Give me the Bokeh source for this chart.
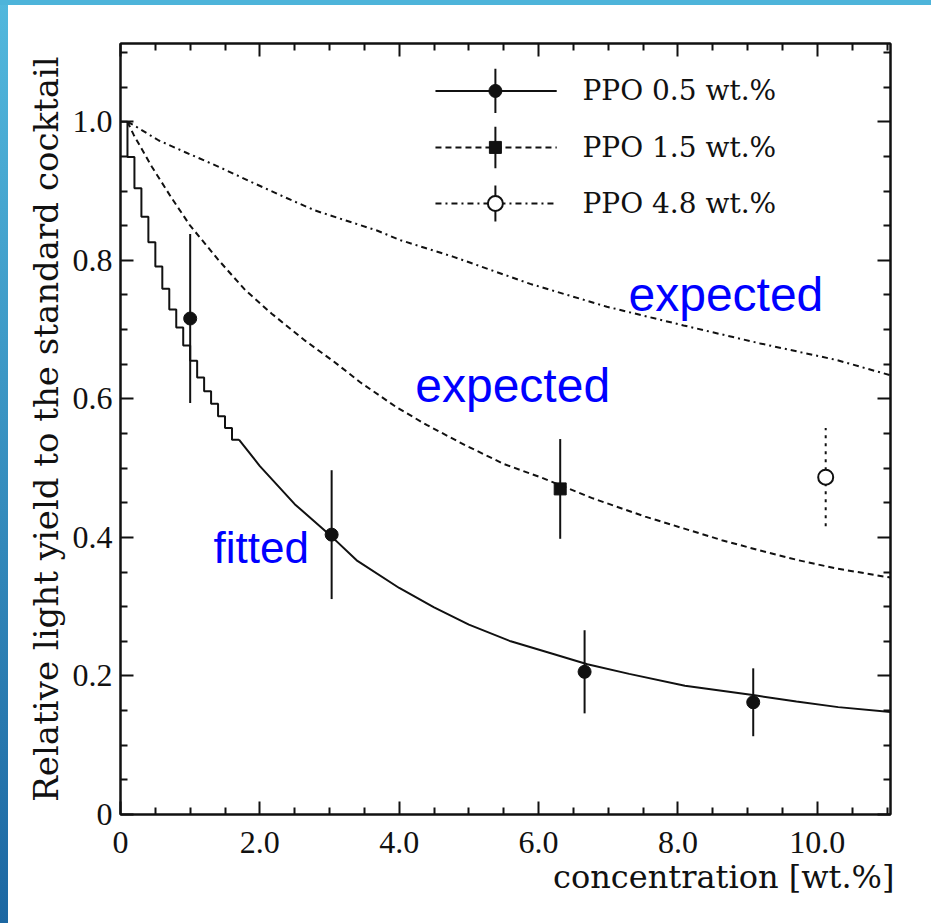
from bokeh.plotting import figure
from bokeh.models import FixedTicker, LinearAxis, Label, Range1d, PrintfTickFormatter, Title
from bokeh.embed import file_html
from bokeh.resources import INLINE

# ---------------- data ----------------
# fitted curve, PPO 0.5 wt.% : histogram part (bins of 0.1 wt.%)
fit_bin_edges = [0.0, 0.1, 0.2, 0.3, 0.4, 0.5, 0.6, 0.7, 0.8, 0.9, 1.0,
                 1.1, 1.2, 1.3, 1.4, 1.5, 1.6, 1.7]
fit_bin_vals = [1.0, 0.949, 0.904, 0.863, 0.826, 0.791, 0.759, 0.729, 0.703,
                0.677, 0.655, 0.631, 0.611, 0.593, 0.575, 0.558, 0.541]
# fitted curve, continued (fine steps, read as a line)
fit_x = [1.7, 2.0, 2.5, 3.0, 3.4, 4.0, 4.5, 5.0, 5.6, 6.2, 6.7, 7.3, 8.1,
         9.1, 9.7, 10.3, 11.05]
fit_y = [0.541, 0.503, 0.448, 0.404, 0.366, 0.327, 0.299, 0.274, 0.250,
         0.232, 0.217, 0.203, 0.186, 0.172, 0.163, 0.155, 0.148]

# expected curve, PPO 1.5 wt.%
exp15_x = [0.1, 0.19, 0.45, 0.74, 1.0, 1.41, 1.79, 2.17, 2.65, 3.06, 3.44,
           3.96, 4.40, 4.95, 5.50, 6.05, 6.76, 7.53, 8.08, 8.63, 9.18, 9.73,
           10.28, 11.05]
exp15_y = [1.0, 0.981, 0.935, 0.889, 0.850, 0.800, 0.757, 0.723, 0.684,
           0.654, 0.624, 0.588, 0.562, 0.533, 0.506, 0.486, 0.457, 0.430,
           0.413, 0.396, 0.381, 0.367, 0.355, 0.342]

# expected curve, PPO 4.8 wt.%
exp48_x = [0.1, 0.19, 0.55, 0.93, 1.41, 1.88, 2.36, 2.79, 3.68, 4.02, 4.78,
           5.88, 6.98, 8.08, 9.18, 10.28, 11.05]
exp48_y = [1.0, 0.995, 0.973, 0.956, 0.935, 0.913, 0.891, 0.872, 0.843,
           0.829, 0.805, 0.766, 0.733, 0.706, 0.680, 0.656, 0.634]

# measured points
ppo05_x = [1.0, 3.03, 6.66, 9.08]
ppo05_y = [0.716, 0.404, 0.206, 0.162]
ppo05_err = [0.122, 0.093, 0.060, 0.049]

ppo15_x = [6.31]
ppo15_y = [0.470]
ppo15_err = [0.072]

ppo48_x = [10.12]
ppo48_y = [0.487]
ppo48_err = [0.071]

legend_labels = ["PPO 0.5 wt.%", "PPO 1.5 wt.%", "PPO 4.8 wt.%"]

x_major = [0, 2, 4, 6, 8, 10]
x_minor = [0.5, 1, 1.5, 2.5, 3, 3.5, 4.5, 5, 5.5, 6.5, 7, 7.5, 8.5, 9, 9.5, 10.5, 11]
y_major = [0, 0.2, 0.4, 0.6, 0.8, 1.0]
y_minor = [0.05, 0.1, 0.15, 0.25, 0.3, 0.35, 0.45, 0.5, 0.55, 0.65, 0.7, 0.75,
           0.85, 0.9, 0.95, 1.05, 1.1]

# ---------------- figure ----------------
X_MAX, Y_MAX = 11.05, 1.113
p = figure(width=931, height=923, output_backend="svg", toolbar_location=None,
           x_range=Range1d(0, X_MAX), y_range=Range1d(0, Y_MAX),
           min_border_left=120, min_border_right=41, min_border_top=43,
           min_border_bottom=109)
p.border_fill_color = None
p.background_fill_color = "white"
p.styles = {
    "background": "linear-gradient(#4db4da, #4db4da) left top / 100% 5px no-repeat, "
                  "linear-gradient(to bottom, #52b8dd, #1c67a2) left top / 8px 100% no-repeat, "
                  "#ffffff"
}
p.xgrid.visible = False
p.ygrid.visible = False
p.outline_line_color = "#111111"
p.outline_line_width = 2

TICK_FONT = "Liberation Serif"
LABEL_FONT = "DejaVu Serif"


def style_axis(ax, ticks, minor, show_labels):
    ax.ticker = FixedTicker(ticks=ticks, minor_ticks=minor)
    ax.axis_line_color = "#111111"
    ax.axis_line_width = 2
    ax.major_tick_in = 13
    ax.major_tick_out = 0
    ax.minor_tick_in = 7
    ax.minor_tick_out = 0
    ax.major_tick_line_color = "#111111"
    ax.minor_tick_line_color = "#111111"
    ax.major_tick_line_width = 2
    ax.minor_tick_line_width = 2
    if show_labels:
        ax.formatter = PrintfTickFormatter(format="%.1f")
        ax.major_label_overrides = {0: "0"}
        ax.major_label_text_font = TICK_FONT
        ax.major_label_text_font_size = "32px"
        ax.major_label_text_color = "#111111"
    else:
        ax.major_label_text_color = None
        ax.major_label_standoff = 0


style_axis(p.xaxis[0], x_major, x_minor, True)
p.xaxis[0].major_label_standoff = 17

style_axis(p.yaxis[0], y_major, y_minor, True)
p.yaxis[0].major_label_standoff = 8
p.yaxis[0].axis_label = "Relative light yield to the standard cocktail"
p.yaxis[0].axis_label_text_font = LABEL_FONT
p.yaxis[0].axis_label_text_font_size = "34px"
p.yaxis[0].axis_label_text_font_style = "normal"
p.yaxis[0].axis_label_text_color = "#111111"
p.yaxis[0].axis_label_standoff = 4

top_ax = LinearAxis()
style_axis(top_ax, x_major, x_minor, False)
p.add_layout(top_ax, "above")
right_ax = LinearAxis()
style_axis(right_ax, y_major, y_minor, False)
p.add_layout(right_ax, "right")

# x-axis title, right aligned under the frame as in the original
p.add_layout(Title(text="concentration [wt.%]", align="right",
                   text_font=LABEL_FONT, text_font_size="32px",
                   text_font_style="normal", text_color="#111111",
                   standoff=0, offset=-4), "below")

# ---------------- curves ----------------
step_x = fit_bin_edges
step_y = fit_bin_vals + fit_bin_vals[-1:]
p.step(step_x, step_y, mode="after", line_color="#111111", line_width=2)
p.line(fit_x, fit_y, line_color="#111111", line_width=2)
p.line(exp15_x, exp15_y, line_color="#111111", line_width=2, line_dash="6 4")
p.line(exp48_x, exp48_y, line_color="#111111", line_width=2, line_dash="6 4 2 4")

# ---------------- data points with error bars ----------------
p.segment(ppo05_x, [y - e for y, e in zip(ppo05_y, ppo05_err)],
          ppo05_x, [y + e for y, e in zip(ppo05_y, ppo05_err)],
          line_color="#111111", line_width=2)
p.scatter(ppo05_x, ppo05_y, marker="circle", size=13, fill_color="#111111",
          line_color="#111111")

p.segment(ppo15_x, [y - e for y, e in zip(ppo15_y, ppo15_err)],
          ppo15_x, [y + e for y, e in zip(ppo15_y, ppo15_err)],
          line_color="#111111", line_width=2)
p.scatter(ppo15_x, ppo15_y, marker="square", size=12, fill_color="#111111",
          line_color="#111111")

p.segment(ppo48_x, [y - e for y, e in zip(ppo48_y, ppo48_err)],
          ppo48_x, [y + e for y, e in zip(ppo48_y, ppo48_err)],
          line_color="#111111", line_width=2, line_dash="3 5")
p.scatter(ppo48_x, ppo48_y, marker="circle", size=15, fill_color="white",
          line_color="#111111", line_width=2)

# ---------------- legend (drawn by hand, like the original) ----------------
leg_y = [1.0445, 0.963, 0.882]
leg_half = [0.032, 0.030, 0.026]
leg_x0, leg_xm, leg_x1, leg_xt = 4.52, 5.38, 6.26, 6.63
dashes = ["solid", "6 4", "6 4 2 4"]
for i in range(3):
    p.line([leg_x0, leg_x1], [leg_y[i], leg_y[i]], line_color="#111111",
           line_width=2, line_dash=dashes[i])
    p.segment([leg_xm], [leg_y[i] - leg_half[i]], [leg_xm], [leg_y[i] + leg_half[i]],
              line_color="#111111", line_width=2)
    p.add_layout(Label(x=leg_xt, y=leg_y[i], text=legend_labels[i],
                       text_baseline="middle", text_align="left",
                       text_font=LABEL_FONT, text_font_size="28px",
                       text_color="#111111"))
p.scatter([leg_xm], [leg_y[0]], marker="circle", size=13, fill_color="#111111",
          line_color="#111111")
p.scatter([leg_xm], [leg_y[1]], marker="square", size=12, fill_color="#111111",
          line_color="#111111")
p.scatter([leg_xm], [leg_y[2]], marker="circle", size=15, fill_color="white",
          line_color="#111111", line_width=2)

# ---------------- blue annotations ----------------
for tx, ty, tt, fs in [(7.29, 0.750, "expected", "48px"),
                       (4.23, 0.620, "expected", "48px"),
                       (1.335, 0.385, "fitted", "44px")]:
    p.add_layout(Label(x=tx, y=ty, text=tt, text_baseline="alphabetic",
                       text_align="left", text_font="Liberation Sans",
                       text_font_size=fs, text_color="#0000ff"))

open("out.html", "w").write(file_html(p, INLINE))
